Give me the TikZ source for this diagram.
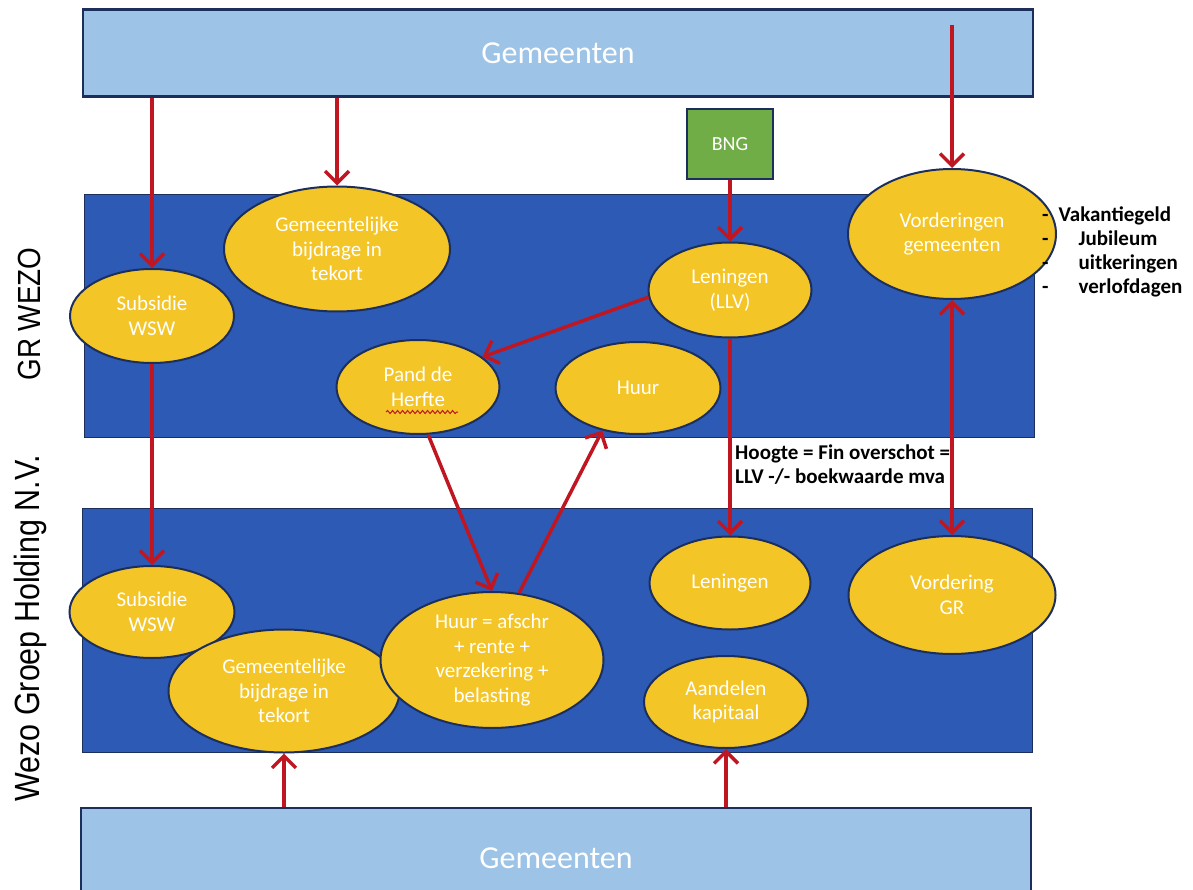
\documentclass[tikz,border=0pt]{standalone}
\usepackage{fontspec}
\setmainfont{Carlito}
\newfontfamily\labelfont[FakeStretch=0.87]{Liberation Sans}
\usetikzlibrary{shapes.geometric,arrows.meta,decorations.pathmorphing}
\definecolor{lichtblauw}{RGB}{157,195,230}
\definecolor{donkerblauw}{RGB}{28,46,92}
\definecolor{bandblauw}{RGB}{45,90,180}
\definecolor{geel}{RGB}{244,197,38}
\definecolor{rood}{RGB}{192,22,34}
\definecolor{groen}{RGB}{112,173,71}
\begin{document}
\begin{tikzpicture}[x=1pt,y=-1pt,
    gemeente/.style={draw=donkerblauw,line width=2.5pt,fill=lichtblauw,minimum width=950pt,minimum height=87pt,text=white,font=\fontsize{32}{36}\selectfont},
    band/.style={draw=donkerblauw,line width=1pt,fill=bandblauw,minimum width=950pt,minimum height=242pt},
    ovaal/.style={ellipse,draw=donkerblauw,line width=2pt,fill=geel,inner sep=0pt,align=center,text=white,font=\fontsize{21}{24.5}\selectfont},
    pijl/.style={draw=rood,line width=3.5pt,-{Straight Barb[length=12pt,width=24pt]}},
    zij/.style={rotate=90,font=\labelfont\fontsize{32}{36}\selectfont},
    notitie/.style={inner sep=0pt,align=left,font=\bfseries\fontsize{21}{24}\selectfont}]
\useasboundingbox (0,0) rectangle (1193,890);
% lagen
\node [band] (gr) at (559,316) {};
\node [band,minimum height=244pt] (nv) at (557,630) {};
\node [gemeente] (boven) at (558,53) {Gemeenten};
\node [gemeente,minimum height=100pt] (onder) at (556,858) {Gemeenten};
\node [draw=donkerblauw,line width=2pt,fill=groen,minimum width=86pt,minimum height=70pt,text=white,font=\fontsize{20}{24}\selectfont] (bng) at (730,144) {BNG};
% GR WEZO
\node [ovaal,minimum width=226pt,minimum height=125pt] (bijdrgr) at (337,249) {Gemeentelijke\\bijdrage in\\tekort};
\node [ovaal,minimum width=164pt,minimum height=94pt] (subgr) at (152,316) {Subsidie\\WSW};
\node [ovaal,minimum width=163pt,minimum height=94pt] (pandgr) at (418,387) {Pand de\\Herfte};
\node [ovaal,minimum width=165pt,minimum height=92pt] (huurgr) at (638,388) {Huur};
\node [ovaal,minimum width=163pt,minimum height=95pt] (lenllv) at (730,290) {Leningen\\(LLV)};
\node [ovaal,minimum width=208pt,minimum height=130pt] (vordgem) at (952,234) {Vorderingen\\gemeenten};
\draw [rood,line width=1pt,decorate,decoration={snake,amplitude=1.5pt,segment length=5pt}] (386,412) -- (458,412);
% Wezo Groep Holding N.V.
\node [ovaal,minimum width=165pt,minimum height=92pt] (subnv) at (152,612) {Subsidie\\WSW};
\node [ovaal,minimum width=231pt,minimum height=123pt] (bijdrnv) at (284,691) {Gemeentelijke\\bijdrage in\\tekort};
\node [ovaal,minimum width=223pt,minimum height=136pt] (huurnv) at (492,660) {Huur = afschr\\+ rente +\\verzekering +\\belasting};
\node [ovaal,minimum width=161pt,minimum height=93pt] (lennv) at (730,583) {Leningen};
\node [ovaal,minimum width=207pt,minimum height=118pt] (vordgr) at (952,595) {Vordering\\GR};
\node [ovaal,minimum width=164pt,minimum height=92pt] (aandnv) at (726,702) {Aandelen\\kapitaal};
% pijlen
\coordinate (vordtop) at (952,25);
\draw [pijl] (boven.south -| subgr) -- (subgr);
\draw [pijl] (boven.south -| bijdrgr) -- (bijdrgr);
\draw [pijl] (vordtop) -- (vordgem);
\draw [pijl] (bng) -- (lenllv);
\draw [pijl] (lenllv.185) -- (pandgr.25);
\draw [pijl] (subgr) -- (subnv);
\draw [pijl] (pandgr.-78) -- (huurnv.north);
\draw [pijl] (huurnv.68) -- (huurgr.-130);
\draw [pijl] (lenllv) -- (lennv);
\draw [pijl,{Straight Barb[length=12pt,width=24pt]}-{Straight Barb[length=12pt,width=24pt]}] (vordgr) -- (vordgem);
\draw [pijl] (onder.north -| bijdrnv) -- (bijdrnv);
\draw [pijl] (onder.north -| aandnv) -- (aandnv);
% teksten
\node [zij] (grlabel) at (29,314) {GR WEZO};
\node [zij,font=\labelfont\fontsize{35}{38}\selectfont] (nvlabel) at (30,628) {Wezo Groep Holding N.V.};
\node [notitie,anchor=north west] (hoogte) at (735,445) {Hoogte = Fin overschot =\\LLV -/- boekwaarde mva};
\node [notitie,anchor=north west] (lijst) at (1042,205) {%
  \begin{tabular}{@{}l@{\hspace{30pt}}l@{}}
  - & \hspace{-20pt}Vakantiegeld\\
  - & Jubileum\\
  - & uitkeringen\\
  - & verlofdagen
  \end{tabular}};
\end{tikzpicture}
\end{document}
